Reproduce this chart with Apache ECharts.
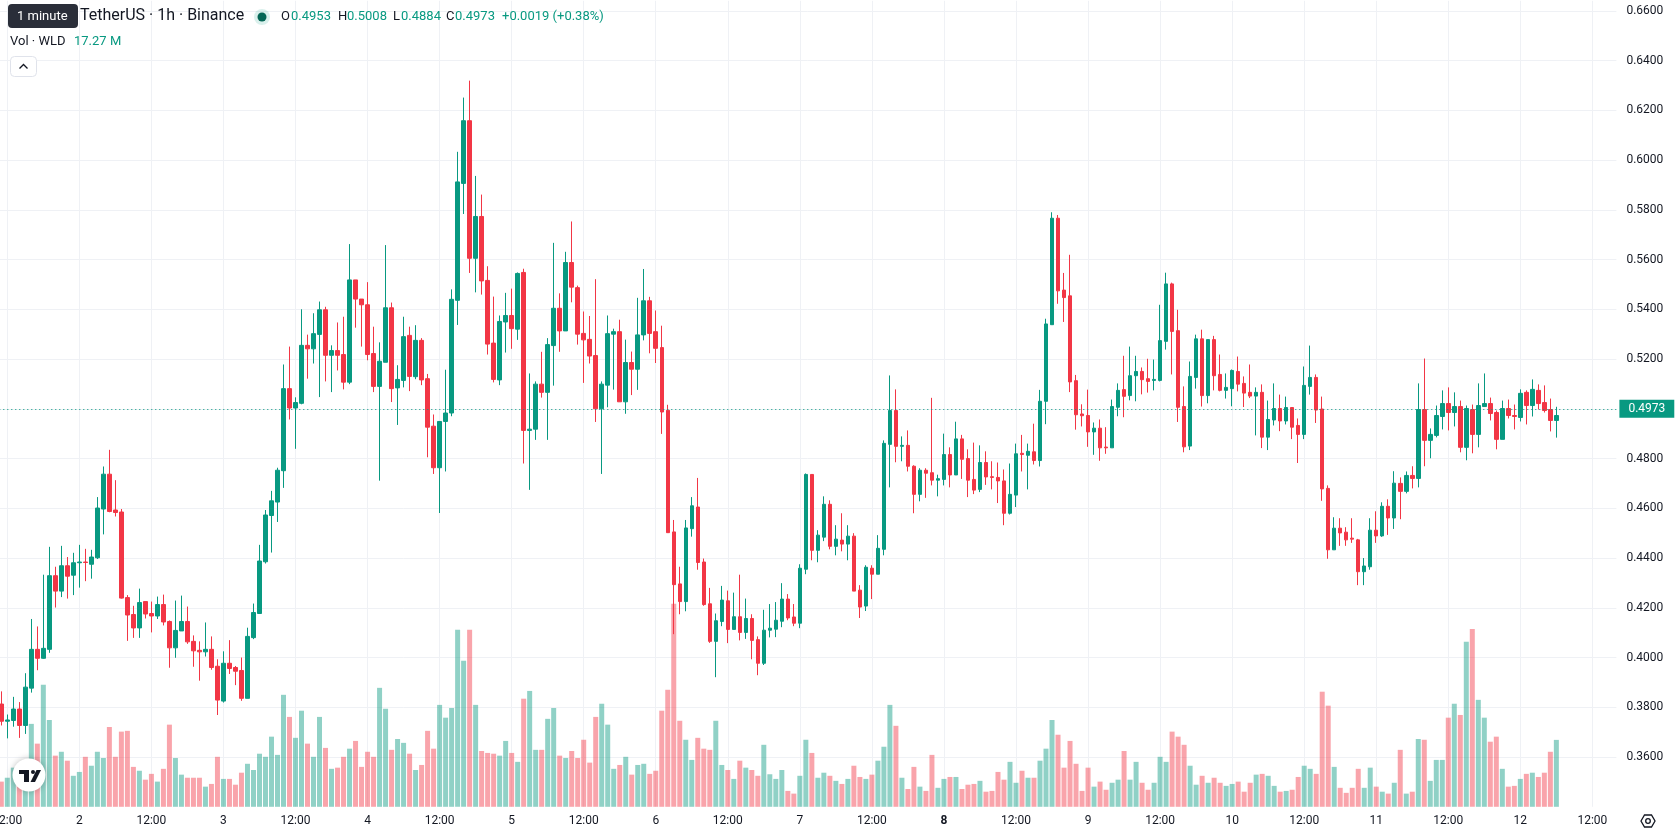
<!DOCTYPE html>
<html>
<head>
<meta charset="utf-8">
<script src="https://cdn.jsdelivr.net/npm/echarts@6.0.0/dist/echarts.min.js"></script>
<style>
html,body{margin:0;padding:0;background:#ffffff;}
#chart{width:1678px;height:835px;}
</style>
</head>
<body>
<div id="chart"></div>
<script>
// ---- time axis (hourly slots, first slot Dec 1 10:00 is empty, first candle Dec 1 11:00) ----
const startDay = 1;
const startHour = 10;
const slotCount = 271;

// ---- OHLC (WLD/USDT, 1h) ----
const open = [
.3813,.3744,.3747,.3793,.3727,.3877,.4033,.3997,.4033,.4329,
.4267,.4369,.4331,.4381,.4384,.4375,.4401,.4597,.4737,.4593,
.4585,.4241,.4173,.4119,.4225,.4177,.4167,.4213,.4145,.4039,
.4107,.4145,.4065,.4029,.4023,.4033,.3965,.3825,.3977,.3960,
.3948,.3836,.4080,.4177,.4385,.4571,.4625,.4751,.5081,.5003,
.5022,.5255,.5241,.5299,.5398,.5215,.5234,.5218,.5107,.5518,
.5441,.5418,.5222,.5090,.5187,.5406,.5084,.5114,.5295,.5129,
.5275,.5121,.4930,.4763,.4949,.4983,.5436,.5906,.6158,.5605,
.5773,.5516,.5264,.5116,.5349,.5375,.5320,.5548,.4913,.4918,
.5099,.5066,.5254,.5404,.5313,.5588,.5487,.5303,.5279,.5214,
.5000,.5095,.5300,.5310,.5028,.5186,.5159,.5297,.5434,.5310,
.5246,.4994,.4505,.4296,.4225,.4518,.4605,.4384,.4216,.4065,
.4145,.4228,.4113,.4164,.4101,.4157,.4072,.3977,.4110,.4114,
.4146,.4235,.4163,.4138,.4355,.4736,.4431,.4484,.4616,.4447,
.4472,.4456,.4488,.4271,.4207,.4359,.4335,.4435,.4857,.4993,
.4849,.4853,.4769,.4656,.4753,.4743,.4713,.4716,.4816,.4734,
.4879,.4800,.4716,.4676,.4784,.4727,.4724,.4710,.4580,.4653,
.4821,.4813,.4827,.4792,.5030,.5338,.5766,.5477,.5454,.5113,
.4979,.4973,.4907,.4922,.4846,.4843,.5006,.5077,.5053,.5133,
.5150,.5121,.5114,.5114,.5271,.5502,.5314,.5009,.4850,.5126,
.5281,.5053,.5278,.5138,.5074,.5081,.5150,.5102,.5066,.5051,
.5066,.4886,.4955,.5001,.4951,.5005,.4933,.4897,.5090,.5126,
.4999,.4680,.4433,.4520,.4504,.4480,.4473,.4345,.4365,.4512,
.4489,.4608,.4561,.4700,.4668,.4732,.4720,.4997,.4873,.4893,
.4969,.5021,.4985,.5009,.4845,.4997,.4897,.5009,.5021,.4985,
.4877,.5001,.4973,.4965,.5066,.5013,.5074,.5025,.4997,.4953
];
const high = [
.3864,.3771,.3842,.3821,.3937,.4155,.4125,.4333,.4445,.4365,
.4449,.4404,.4421,.4453,.4437,.4433,.4645,.4768,.4835,.4713,
.4597,.4251,.4208,.4277,.4225,.4225,.4245,.4253,.4149,.4229,
.4249,.4205,.4089,.4065,.4141,.4085,.3993,.4025,.4070,.3966,
.4000,.4120,.4217,.4453,.4593,.4670,.4763,.5178,.5250,.5046,
.5400,.5298,.5384,.5431,.5410,.5255,.5347,.5370,.5662,.5518,
.5441,.5509,.5330,.5267,.5658,.5427,.5175,.5370,.5330,.5336,
.5284,.5140,.4977,.4949,.5157,.5480,.6033,.6251,.6319,.5936,
.5861,.5573,.5451,.5375,.5466,.5483,.5548,.5563,.5142,.5110,
.5229,.5284,.5667,.5464,.5631,.5753,.5495,.5391,.5373,.5521,
.5110,.5375,.5322,.5358,.5278,.5230,.5446,.5562,.5450,.5395,
.5334,.5016,.4553,.4365,.4553,.4645,.4722,.4398,.4280,.4177,
.4288,.4269,.4261,.4333,.4237,.4174,.4085,.4192,.4215,.4223,
.4299,.4255,.4215,.4375,.4740,.4736,.4512,.4648,.4632,.4532,
.4580,.4532,.4500,.4291,.4371,.4371,.4492,.4873,.5134,.5078,
.4889,.4913,.4773,.4761,.4761,.5044,.4735,.4900,.4845,.4948,
.4895,.4837,.4864,.4853,.4829,.4789,.4784,.4756,.4780,.4860,
.4895,.4860,.4940,.5076,.5362,.5790,.5779,.5546,.5619,.5136,
.5018,.5077,.4945,.4957,.4926,.5037,.5102,.5213,.5250,.5213,
.5166,.5201,.5198,.5418,.5547,.5507,.5398,.5090,.5190,.5298,
.5318,.5278,.5293,.5218,.5142,.5158,.5210,.5130,.5178,.5086,
.5098,.5033,.5102,.5057,.5049,.5005,.4961,.5170,.5254,.5138,
.5049,.4692,.4564,.4560,.4524,.4560,.4477,.4400,.4560,.4588,
.4624,.4636,.4749,.4724,.4748,.4769,.5102,.5202,.4921,.5013,
.5074,.5086,.5066,.5033,.5013,.5017,.5102,.5142,.5045,.4993,
.5033,.5037,.5017,.5078,.5074,.5118,.5098,.5094,.5041,.5008
];
const low = [
.3727,.3675,.3722,.3677,.3693,.3859,.3949,.3995,.4019,.4201,
.4243,.4237,.4251,.4281,.4307,.4317,.4396,.4495,.4584,.4567,
.4237,.4067,.4079,.4079,.4157,.4101,.4155,.4129,.3959,.3999,
.4107,.4055,.3963,.3907,.4004,.3951,.3769,.3819,.3934,.3889,
.3826,.3836,.4074,.4177,.4378,.4422,.4545,.4682,.4957,.4839,
.5018,.5121,.5182,.5047,.5110,.5067,.5154,.5078,.5099,.5326,
.5250,.5195,.5067,.4711,.5187,.5027,.4935,.5086,.5071,.5119,
.5095,.4805,.4738,.4581,.4748,.4970,.5337,.5783,.5546,.5468,
.5459,.5218,.5106,.5095,.5226,.5241,.5277,.4780,.4674,.4875,
.5045,.4875,.5093,.5229,.5313,.5428,.5258,.5104,.5182,.4947,
.4738,.5006,.5077,.5028,.4980,.5055,.5076,.5275,.5223,.5184,
.4899,.4502,.4094,.4174,.4186,.4486,.4353,.4208,.4059,.3921,
.4126,.4058,.4113,.4069,.4075,.3993,.3929,.3970,.4081,.4082,
.4122,.4150,.4126,.4118,.4335,.4391,.4383,.4468,.4435,.4411,
.4427,.4391,.4267,.4159,.4187,.4235,.4335,.4411,.4684,.4785,
.4789,.4748,.4580,.4628,.4642,.4692,.4648,.4692,.4684,.4734,
.4718,.4645,.4657,.4665,.4694,.4676,.4621,.4532,.4575,.4605,
.4748,.4676,.4776,.4768,.4938,.5338,.5422,.5349,.5067,.4916,
.4929,.4847,.4815,.4791,.4819,.4843,.4970,.4966,.5034,.5030,
.5058,.5065,.5074,.5110,.5238,.5138,.4947,.4825,.4834,.5081,
.5009,.5022,.5074,.5070,.5041,.5010,.5070,.5007,.5043,.4893,
.4842,.4834,.4933,.4910,.4937,.4878,.4782,.4878,.5057,.4943,
.4630,.4397,.4433,.4449,.4449,.4461,.4291,.4291,.4353,.4461,
.4485,.4493,.4517,.4556,.4660,.4680,.4684,.4769,.4801,.4885,
.4917,.4913,.4929,.4825,.4793,.4821,.4845,.5009,.4953,.4837,
.4877,.4961,.4917,.4949,.4937,.4969,.4997,.4985,.4909,.4884
];
const close = [
.3744,.3749,.3793,.3727,.3881,.4033,.3997,.4037,.4329,.4267,
.4369,.4327,.4381,.4384,.4382,.4404,.4601,.4737,.4587,.4583,
.4239,.4171,.4119,.4221,.4175,.4167,.4213,.4143,.4039,.4109,
.4145,.4063,.4027,.4023,.4033,.3960,.3829,.3977,.3956,.3945,
.3836,.4085,.4181,.4388,.4573,.4630,.4753,.5081,.5003,.5025,
.5255,.5241,.5302,.5398,.5215,.5234,.5215,.5107,.5518,.5441,
.5418,.5218,.5090,.5191,.5406,.5081,.5118,.5290,.5130,.5275,
.5116,.4926,.4763,.4949,.4983,.5440,.5912,.6158,.5605,.5773,
.5514,.5260,.5118,.5351,.5375,.5322,.5544,.4913,.4918,.5099,
.5066,.5258,.5404,.5313,.5588,.5489,.5300,.5277,.5212,.5000,
.5099,.5302,.5310,.5028,.5186,.5159,.5297,.5434,.5303,.5243,
.4987,.4502,.4293,.4225,.4521,.4610,.4382,.4213,.4065,.4148,
.4231,.4113,.4164,.4101,.4157,.4069,.3977,.4110,.4118,.4150,
.4235,.4159,.4138,.4359,.4736,.4431,.4492,.4616,.4447,.4476,
.4456,.4488,.4267,.4203,.4363,.4335,.4439,.4861,.4993,.4849,
.4853,.4769,.4656,.4753,.4741,.4713,.4719,.4816,.4734,.4879,
.4797,.4713,.4673,.4784,.4726,.4724,.4710,.4580,.4656,.4819,
.4816,.4829,.4792,.5030,.5341,.5766,.5474,.5447,.5108,.4976,
.4972,.4907,.4922,.4843,.4843,.5009,.5074,.5050,.5133,.5150,
.5117,.5110,.5118,.5274,.5502,.5311,.5006,.4847,.5130,.5281,
.5053,.5278,.5133,.5074,.5086,.5154,.5099,.5063,.5051,.5066,
.4886,.4957,.5001,.4951,.5005,.4926,.4897,.5094,.5126,.4995,
.4678,.4433,.4520,.4501,.4473,.4476,.4345,.4368,.4512,.4489,
.4608,.4561,.4701,.4668,.4732,.4720,.4997,.4873,.4897,.4973,
.5021,.4985,.5009,.4845,.5001,.4897,.5013,.5021,.4981,.4877,
.5001,.4973,.4969,.5062,.5013,.5078,.5021,.4993,.4953,.4973
];
// ---- Volume (millions of WLD) ----
const volume = [
6.5,7.5,10.1,7.7,7.7,21.4,16.3,31.5,22.4,13.2,
14.2,11.9,8.0,9.0,12.9,10.6,14.2,12.6,20.6,12.9,
19.4,19.6,10.3,9.3,7.0,8.5,6.5,9.8,21.2,12.6,
8.3,7.5,7.5,7.5,5.2,5.9,12.9,7.2,7.2,5.7,
8.8,11.1,9.5,13.7,12.9,18.1,13.4,28.9,23.2,17.8,
24.8,16.3,12.9,23.2,15.2,9.8,10.1,12.9,15.0,17.0,
10.3,14.2,12.9,30.7,25.3,14.7,17.5,16.5,13.7,9.5,
10.8,19.6,15.0,26.3,23.0,25.5,45.7,37.7,45.7,26.3,
14.4,13.9,13.7,13.2,17.0,13.9,11.6,27.9,29.9,14.7,
14.7,22.7,25.5,13.2,12.6,14.4,12.6,17.3,11.4,23.2,
26.6,21.2,9.8,10.8,12.9,8.3,10.8,11.1,8.5,9.3,
24.8,30.2,52.4,22.2,17.3,12.1,17.8,15.0,14.7,22.2,
10.8,9.5,7.2,11.9,10.1,9.5,8.0,16.0,8.4,7.2,
9.5,4.1,3.4,8.0,17.3,13.9,7.5,8.8,8.0,6.7,
5.9,7.2,10.6,7.7,7.2,8.3,11.9,15.5,26.3,20.9,
7.5,4.6,10.3,5.2,4.1,13.4,4.9,7.2,7.7,7.7,
4.6,5.7,5.9,6.7,3.9,4.1,9.0,7.0,11.6,6.2,
9.3,7.5,7.5,11.9,15.0,22.4,18.6,10.1,17.0,11.1,
4.1,10.1,5.2,6.5,4.4,6.2,7.0,14.4,7.0,11.6,
6.2,4.4,6.2,12.9,11.6,19.4,18.1,16.0,10.6,5.7,
8.0,6.2,7.5,6.2,5.4,5.9,6.5,3.9,6.2,8.3,
8.5,8.0,5.4,3.9,4.1,4.4,7.7,10.6,9.8,8.5,
29.7,26.1,10.3,4.9,3.6,4.9,9.8,4.9,10.1,5.2,
3.9,3.4,6.2,14.7,3.4,3.9,17.5,17.3,6.7,12.1,
12.1,23.0,26.6,23.7,42.6,45.9,27.6,23.0,16.8,18.1,
9.8,5.2,5.4,7.2,8.5,8.8,7.7,8.8,14.2,17.27
];
const lastPrice = 0.4973;
const lastVolume = 17.27;
const legendOHLC = ['0.4953', '0.5008', '0.4884', '0.4973'];
const legendChange = '+0.0019 (+0.38%)';

// ---- colours ----
const UP = '#089981', DOWN = '#F23645';
const UP_VOL = 'rgba(8,153,129,0.45)', DOWN_VOL = 'rgba(242,54,69,0.45)';
const TEXT = '#131722', GRID = '#EFF1F5';
const FONT = 'Roboto';

// categories: "day|hour"
const categories = [];
for (let i = 0; i < slotCount; i++) {
  const t = startHour + i;
  categories.push((startDay + Math.floor(t / 24)) + '|' + (t % 24));
}
const isLabelSlot = (idx, val) => { const h = +String(val).split('|')[1]; return h === 0 || h === 12; };

const candleData = open.map((o, j) => [j + 1, o, close[j], low[j], high[j]]);
const volData = volume.map((v, j) => [j + 1, v]);

const chart = echarts.init(document.getElementById('chart'), null, {renderer: 'canvas'});
chart.setOption({
  animation: false,
  backgroundColor: '#ffffff',
  grid: {left: -4.7, right: 61.6, top: 0.8, bottom: 28.2, containLabel: false, outerBoundsMode: 'none'},
  xAxis: {
    type: 'category',
    data: categories,
    boundaryGap: false,
    axisLine: {show: false},
    axisTick: {show: false},
    axisLabel: {
      interval: isLabelSlot,
      margin: 8,
      color: TEXT, fontSize: 12, fontFamily: FONT,
      hideOverlap: false,
      formatter: (val) => {
        const p = String(val).split('|').map(Number);
        if (p[1] === 12) return '12:00';
        if (p[0] === 8) return '{b|8}';
        return String(p[0]);
      },
      rich: {b: {fontWeight: 'bold', fontSize: 12, fontFamily: FONT, color: TEXT}}
    },
    splitLine: {show: true, interval: isLabelSlot, lineStyle: {color: GRID, width: 1}}
  },
  yAxis: [
    {
      type: 'value', position: 'right',
      min: 0.34, max: 0.664, interval: 0.02,
      axisLine: {show: false}, axisTick: {show: false},
      splitLine: {show: true, showMinLine: false, showMaxLine: false, lineStyle: {color: GRID, width: 1}},
      axisLabel: {
        color: TEXT, fontSize: 12, fontFamily: FONT, margin: 10,
        showMinLabel: false, showMaxLabel: false,
        formatter: (v) => v.toFixed(4)
      }
    },
    {type: 'value', min: 0, max: 208, show: false}
  ],
  series: [
    {
      type: 'bar', name: 'Volume', yAxisIndex: 1, z: 1,
      data: volData, encode: {x: 0, y: 1},
      barWidth: 5,
      itemStyle: {color: (p) => close[p.dataIndex] >= open[p.dataIndex] ? UP_VOL : DOWN_VOL},
      markLine: {
        silent: true, symbol: ['none', 'none'],
        data: [{yAxis: lastVolume}],
        lineStyle: {opacity: 0, width: 0},
        label: {
          show: true, position: 'end', distance: 3,
          formatter: lastVolume.toFixed(2) + ' M',
          backgroundColor: '#22AB94', color: '#ffffff',
          fontSize: 12, fontFamily: FONT, padding: [3, 7, 3, 7], align: 'left'
        }
      }
    },
    {
      type: 'candlestick', name: 'WLDUSDT', z: 3,
      data: candleData, encode: {x: 0, y: [1, 2, 3, 4]},
      barWidth: 4,
      itemStyle: {color: UP, color0: DOWN, borderColor: UP, borderColor0: DOWN, borderWidth: 1},
      markLine: {
        silent: true, symbol: ['none', 'none'],
        data: [{yAxis: lastPrice}],
        lineStyle: {color: UP, width: 1, type: [1, 3]},
        label: {
          show: true, position: 'end', distance: 3,
          formatter: lastPrice.toFixed(4),
          backgroundColor: UP, color: '#ffffff',
          fontSize: 12, fontFamily: FONT, padding: [3, 9, 3, 9], align: 'left'
        }
      }
    }
  ],
  graphic: [
    // legend title (partly covered by the tooltip)
    {type: 'text', left: 80, top: 8, z: 50, style: {text: 'TetherUS · 1h · Binance', fill: TEXT, font: '16px Roboto'}},
    {type: 'circle', shape: {cx: 262, cy: 17, r: 8}, z: 50, style: {fill: 'rgba(8,153,129,0.15)'}},
    {type: 'circle', shape: {cx: 262, cy: 17, r: 4.5}, z: 51, style: {fill: '#056656'}},
    {type: 'text', left: 281, top: 10, z: 50, style: {text: 'O', fill: TEXT, font: '13px Roboto'}},
    {type: 'text', left: 291, top: 10, z: 50, style: {text: legendOHLC[0], fill: UP, font: '13px Roboto'}},
    {type: 'text', left: 338, top: 10, z: 50, style: {text: 'H', fill: TEXT, font: '13px Roboto'}},
    {type: 'text', left: 347, top: 10, z: 50, style: {text: legendOHLC[1], fill: UP, font: '13px Roboto'}},
    {type: 'text', left: 393, top: 10, z: 50, style: {text: 'L', fill: TEXT, font: '13px Roboto'}},
    {type: 'text', left: 401, top: 10, z: 50, style: {text: legendOHLC[2], fill: UP, font: '13px Roboto'}},
    {type: 'text', left: 446, top: 10, z: 50, style: {text: 'C', fill: TEXT, font: '13px Roboto'}},
    {type: 'text', left: 455, top: 10, z: 50, style: {text: legendOHLC[3], fill: UP, font: '13px Roboto'}},
    {type: 'text', left: 502, top: 10, z: 50, style: {text: legendChange, fill: UP, font: '13px Roboto'}},
    // volume legend
    {type: 'text', left: 10, top: 35, z: 50, style: {text: 'Vol · WLD', fill: TEXT, font: '13px Roboto'}},
    {type: 'text', left: 74, top: 35, z: 50, style: {text: lastVolume.toFixed(2) + ' M', fill: UP, font: '13px Roboto'}},
    // collapse button
    {type: 'rect', shape: {x: 10.5, y: 56.5, width: 26, height: 20, r: 4}, z: 50, style: {fill: '#ffffff', stroke: '#E0E3EB', lineWidth: 1}},
    {type: 'polyline', shape: {points: [[19.5, 68.5], [23.5, 64.5], [27.5, 68.5]]}, z: 51, style: {stroke: TEXT, lineWidth: 1.3, fill: null}},
    // "1 minute" tooltip
    {type: 'rect', shape: {x: 8, y: 4, width: 70, height: 24, r: 4}, z: 60, style: {fill: '#2A2E39'}},
    {type: 'text', left: 17, top: 10, z: 61, style: {text: '1 minute', fill: '#ffffff', font: '13px Roboto'}},
    // TradingView logo
    {type: 'circle', shape: {cx: 29, cy: 775, r: 16.5}, z: 60, style: {fill: '#ffffff', shadowBlur: 6, shadowColor: 'rgba(0,0,0,0.25)'}},
    {type: 'rect', shape: {x: 19, y: 770, width: 10, height: 4}, z: 61, style: {fill: '#131722'}},
    {type: 'rect', shape: {x: 24, y: 770, width: 5, height: 12}, z: 61, style: {fill: '#131722'}},
    {type: 'circle', shape: {cx: 33, cy: 772, r: 2}, z: 61, style: {fill: '#131722'}},
    {type: 'polygon', shape: {points: [[36.5, 770], [41, 770], [35, 782], [30.5, 782]]}, z: 61, style: {fill: '#131722'}},
    // settings icon
    {type: 'polygon', shape: {points: [[1641, 821], [1644.5, 815], [1651.5, 815], [1655, 821], [1651.5, 827], [1644.5, 827]]}, z: 60, style: {fill: null, stroke: TEXT, lineWidth: 1.3}},
    {type: 'circle', shape: {cx: 1648, cy: 821, r: 2.3}, z: 60, style: {fill: null, stroke: TEXT, lineWidth: 1.3}}
  ]
});
</script>
</body>
</html>
